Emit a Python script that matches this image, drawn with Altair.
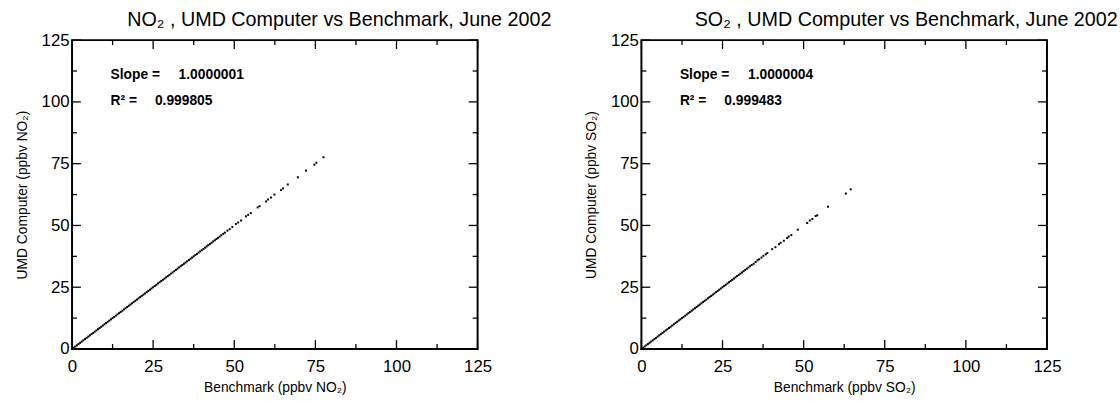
import altair as alt
import pandas as pd

FONT = "Liberation Sans"
W, H = 411, 313

major_ticks = [0, 25, 50, 75, 100, 125]
minor_ticks = [12.5, 37.5, 62.5, 87.5, 112.5]

# Hourly pairs (ppbv) where benchmark and UMD computer agree to the plotted precision
no2_dense = [
    0.0, 0.5, 1.0, 1.5, 2.0, 2.5, 3.0, 3.5, 4.0, 4.5, 5.0, 5.5, 6.0, 6.5, 7.0, 7.5,
    8.0, 8.5, 9.0, 9.5, 10.0, 10.5, 11.0, 11.5, 12.0, 12.5, 13.0, 13.5, 14.0, 14.5,
    15.0, 15.5, 16.0, 16.5, 17.0, 17.5, 18.0, 18.5, 19.0, 19.5, 20.0, 20.5, 21.0,
    21.5, 22.0, 22.5, 23.0, 23.5, 24.0, 24.5, 25.0, 25.5, 26.0, 26.5, 27.0, 27.5,
    28.0, 28.5, 29.0, 29.5, 30.0, 30.5, 31.0, 31.5, 32.0, 32.5, 33.0, 33.5, 34.0,
    34.5, 35.0, 35.5, 36.0, 36.5, 37.0, 37.5, 38.0, 38.5, 39.0, 39.5, 40.0, 40.5,
    41.0, 41.5, 42.0, 42.5, 43.0, 43.5, 44.0, 44.5, 45.0, 45.5, 46.0, 46.6, 47.1,
]
# Sparser high-concentration NO2 hours
no2_bench = [47.9, 48.6, 49.4, 50.5, 51.2, 52.1, 53.6, 54.3, 55.1, 57.2, 57.8,
             59.8, 60.4, 61.3, 62.4, 64.4, 65.0, 66.5, 69.6, 72.1, 74.7, 75.3, 77.5]
no2_umd = [47.9, 48.5, 49.4, 50.6, 51.2, 52.0, 53.7, 54.3, 55.0, 57.3, 57.8,
           59.7, 60.5, 61.3, 62.5, 64.3, 65.0, 66.6, 69.5, 72.2, 74.6, 75.4, 77.6]

so2_dense = [
    0.0, 0.5, 1.0, 1.5, 2.0, 2.5, 3.0, 3.5, 4.0, 4.5, 5.0, 5.5, 6.0, 6.5, 7.0, 7.5,
    8.0, 8.5, 9.0, 9.5, 10.0, 10.5, 11.0, 11.5, 12.0, 12.5, 13.0, 13.5, 14.0, 14.5,
    15.0, 15.5, 16.0, 16.5, 17.0, 17.5, 18.0, 18.5, 19.0, 19.5, 20.0, 20.5, 21.0,
    21.5, 22.0, 22.5, 23.0, 23.5, 24.0, 24.5, 25.0, 25.5, 26.0, 26.5, 27.0, 27.5,
    28.0, 28.5, 29.0, 29.5, 30.0, 30.5, 31.0, 31.5, 32.0, 32.5, 33.0, 33.5,
]
# Sparser high-concentration SO2 hours
so2_bench = [34.0, 34.6, 35.2, 35.8, 36.3, 37.0, 37.6, 38.3, 38.8, 40.3, 41.3,
             42.4, 42.9, 43.9, 44.9, 45.4, 46.2, 48.2, 51.1, 51.9, 52.7, 53.7,
             54.2, 57.5, 63.0, 64.5]
so2_umd = [34.0, 34.5, 35.2, 35.9, 36.3, 37.0, 37.7, 38.3, 38.8, 40.4, 41.2,
           42.4, 43.0, 43.8, 44.9, 45.5, 46.1, 48.3, 51.0, 52.0, 52.6, 53.8,
           54.1, 57.6, 62.9, 64.6]


def panel(dense, bench, umd, species, slope, r2, title_dx):
    scale = alt.Scale(domain=[0, 125], nice=False, zero=False)
    x_axis = alt.Axis(values=major_ticks, title=f"Benchmark (ppbv {species})",
                      labelPadding=10, titlePadding=6)
    y_axis = alt.Axis(values=major_ticks, title=f"UMD Computer (ppbv {species})",
                      labelPadding=3, titlePadding=12)

    def tick_layer(values, side, length):
        data = pd.DataFrame({"v": values})
        base = alt.Chart(data).mark_rule(color="black", strokeWidth=1.3)
        if side == "bottom":
            enc = dict(x=alt.X("v:Q", scale=scale, axis=x_axis),
                       y=alt.value(H), y2=alt.value(H - length))
        elif side == "top":
            enc = dict(x=alt.X("v:Q", scale=scale, axis=x_axis),
                       y=alt.value(0), y2=alt.value(length))
        elif side == "left":
            enc = dict(y=alt.Y("v:Q", scale=scale, axis=y_axis),
                       x=alt.value(0), x2=alt.value(length))
        else:
            enc = dict(y=alt.Y("v:Q", scale=scale, axis=y_axis),
                       x=alt.value(W), x2=alt.value(W - length))
        return base.encode(**enc)

    def text_layer(label, x, y):
        return alt.Chart(pd.DataFrame({"t": [label]})).mark_text(
            font=FONT, fontSize=14, fontWeight="bold", align="left",
            baseline="alphabetic", color="black",
        ).encode(text="t:N", x=alt.value(x), y=alt.value(y))

    df = pd.DataFrame({"bench": dense + bench, "umd": dense + umd})
    points = alt.Chart(df).mark_square(size=4, color="black", opacity=1).encode(
        x=alt.X("bench:Q", scale=scale, axis=x_axis),
        y=alt.Y("umd:Q", scale=scale, axis=y_axis),
    )
    layers = [points]
    for side in ["bottom", "top", "left", "right"]:
        layers.append(tick_layer(major_ticks, side, 9))
        layers.append(tick_layer(minor_ticks, side, 5))
    layers += [
        text_layer("Slope =", 39, 39),
        text_layer(slope, 108, 39),
        text_layer("R² =", 39, 66),
        text_layer(r2, 84, 66),
    ]
    return alt.layer(*layers).properties(
        width=W, height=H,
        title=alt.TitleParams(
            text=f"{species} , UMD Computer vs Benchmark, June 2002",
            anchor="start", frame="group", dx=title_dx, offset=1,
            font=FONT, fontSize=20, fontWeight="normal", color="black",
        ),
    )


left = panel(no2_dense, no2_bench, no2_umd, "NO₂", "1.0000001", "0.999805", 56)
right = panel(so2_dense, so2_bench, so2_umd, "SO₂", "1.0000004", "0.999483", 54)

chart = alt.hconcat(left, right, spacing=166, bounds="flush").properties(
    padding={"left": 14, "top": 7, "right": 0, "bottom": 0},
    background="white",
).configure_view(
    stroke="black", strokeWidth=2,
).configure_axis(
    labelFont=FONT, labelFontSize=17, labelColor="black",
    titleFont=FONT, titleFontSize=14, titleFontWeight="normal", titleColor="black",
    domain=False, ticks=False, grid=False, labelFlush=False, labelOverlap=False,
)

chart.save("out.html", embed_options={"renderer": "svg", "actions": False})
